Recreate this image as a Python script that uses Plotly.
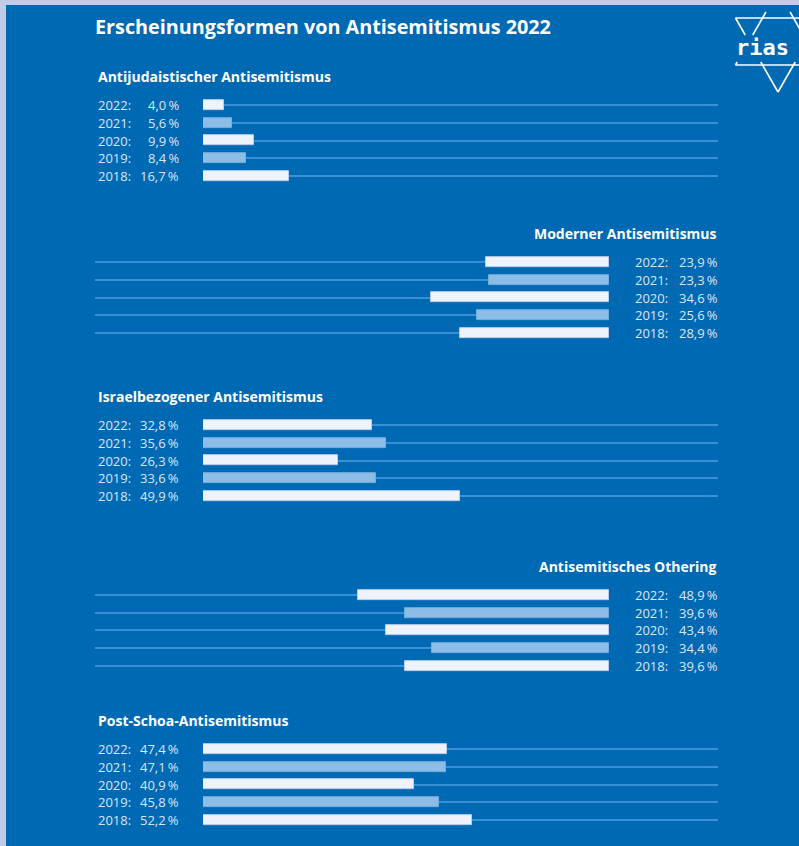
import plotly.graph_objects as go

W, H = 799, 846

years = ["2022", "2021", "2020", "2019", "2018"]

antijudaistisch = [4.0, 5.6, 9.9, 8.4, 16.7]
modern = [23.9, 23.3, 34.6, 25.6, 28.9]
israelbezogen = [32.8, 35.6, 26.3, 33.6, 49.9]
othering = [48.9, 39.6, 43.4, 34.4, 39.6]
post_schoa = [47.4, 47.1, 40.9, 45.8, 52.2]

panel_titles = [
    "Antijudaistischer Antisemitismus",
    "Moderner Antisemitismus",
    "Israelbezogener Antisemitismus",
    "Antisemitisches Othering",
    "Post-Schoa-Antisemitismus",
]
panel_values = [antijudaistisch, modern, israelbezogen, othering, post_schoa]
# which panels grow from the right edge
panel_right = [False, True, False, True, False]

BLUE = "#0069b4"
BORDER = "#c0cbe6"
BAR_WHITE = "#eef3fb"
BAR_LIGHT = "#8bbde6"
LINE = "#3b8fd4"
LABEL = "#dce6f4"
FONT = "Open Sans"

# layout in pixels
first_row = [105, 262, 425, 595, 749]
title_y = [76, 233, 396, 566, 720]
ROW = 17.75


def px_x(x):
    return x / W


def px_y(y):
    return 1 - y / H


def fmt(v):
    return f"{v:.1f}".replace(".", ",") + "\u2009%"


fig = go.Figure()
annotations = []

for i, (title, vals, right) in enumerate(zip(panel_titles, panel_values, panel_right)):
    n = i + 1
    xa = "x" if n == 1 else f"x{n}"
    ya = "y" if n == 1 else f"y{n}"
    colors = [BAR_WHITE if j % 2 == 0 else BAR_LIGHT for j in range(len(years))]
    edges = ["#b9cce8" if j % 2 == 0 else "#74aade" for j in range(len(years))]
    fig.add_trace(go.Bar(
        x=vals, y=years, orientation="h",
        marker=dict(color=colors, line=dict(color=edges, width=1)),
        width=0.56, xaxis=xa, yaxis=ya, showlegend=False, hoverinfo="x+y",
    ))

    top = first_row[i] - ROW / 2
    bottom = first_row[i] + 4 * ROW + ROW / 2
    if right:
        xdom = [px_x(95), px_x(609)]
        xrange = [100, 0]
    else:
        xdom = [px_x(203), px_x(718)]
        xrange = [0, 100]
    ydom = [px_y(bottom), px_y(top)]

    xkey = "xaxis" if n == 1 else f"xaxis{n}"
    ykey = "yaxis" if n == 1 else f"yaxis{n}"
    fig.update_layout(**{
        xkey: dict(domain=xdom, range=xrange, visible=False, anchor=ya, fixedrange=True),
        ykey: dict(domain=ydom, type="category", categoryorder="array",
                   categoryarray=years, range=[4.5, -0.5], anchor=xa,
                   showgrid=True, gridcolor=LINE, gridwidth=2,
                   showticklabels=False, ticks="", zeroline=False,
                   showline=False, fixedrange=True),
    })

    # year and value labels, placed on the category positions of the axis
    if right:
        yx, vx = 633, 720
    else:
        yx, vx = 96, 181
    for j, (yr, v) in enumerate(zip(years, vals)):
        annotations.append(dict(
            x=px_x(yx), xref="paper", y=j, yref=ya, text=yr + ":",
            xanchor="left", yanchor="middle", showarrow=False,
            font=dict(family=FONT, size=13, color=LABEL)))
        annotations.append(dict(
            x=px_x(vx), xref="paper", y=j, yref=ya, text=fmt(v),
            xanchor="right", yanchor="middle", showarrow=False,
            font=dict(family=FONT, size=13, color=LABEL)))

    # panel heading
    annotations.append(dict(
        x=px_x(719 if right else 96), xref="paper", y=px_y(title_y[i]), yref="paper",
        text=f"<b>{title}</b>", xanchor="right" if right else "left",
        yanchor="middle", showarrow=False,
        font=dict(family=FONT, size=14, color="white")))

# main heading
annotations.append(dict(
    x=px_x(93), xref="paper", y=px_y(27), yref="paper",
    text="<b>Erscheinungsformen von Antisemitismus 2022</b>",
    xanchor="left", yanchor="middle", showarrow=False,
    font=dict(family=FONT, size=19.8, color="white")))

# logo wordmark
annotations.append(dict(
    x=px_x(762), xref="paper", y=px_y(48), yref="paper",
    text="<b>rias</b>", xanchor="center", yanchor="middle", showarrow=False,
    font=dict(family="DejaVu Sans Mono", size=22, color="white")))

shapes = []
# blue page with light frame on top and left
shapes.append(dict(type="rect", xref="paper", yref="paper", layer="below",
                   x0=px_x(6), x1=1, y0=0, y1=px_y(5),
                   fillcolor=BLUE, line=dict(width=0)))


def seg(x0, y0, x1, y1):
    return dict(type="line", xref="paper", yref="paper",
                x0=px_x(x0), y0=px_y(y0), x1=px_x(x1), y1=px_y(y1),
                line=dict(color="white", width=1.6), layer="above")


def lerp(a, b, t):
    return a + (b - a) * t


# hexagram outline of the logo, broken around the wordmark
cx, half = 778, 42.5
# downward triangle: top edge y=18, apex y=92
shapes.append(seg(cx - half, 18, cx + half, 18))
shapes.append(seg(cx - half, 18, lerp(cx - half, cx, (35 - 18) / 74), 35))
shapes.append(seg(lerp(cx - half, cx, (62 - 18) / 74), 62, cx, 92))
shapes.append(seg(cx + half, 18, lerp(cx + half, cx, (35 - 18) / 74), 35))
shapes.append(seg(lerp(cx + half, cx, (62 - 18) / 74), 62, cx, 92))
# upward triangle: apex y=-9, bottom edge y=65
shapes.append(seg(cx - half, 65, cx + half, 65))
shapes.append(seg(lerp(cx, cx - half, (12 + 9) / 74), 12, lerp(cx, cx - half, (35 + 9) / 74), 35))
shapes.append(seg(lerp(cx, cx - half, (62 + 9) / 74), 62, cx - half, 65))
shapes.append(seg(lerp(cx, cx + half, (12 + 9) / 74), 12, lerp(cx, cx + half, (35 + 9) / 74), 35))

fig.update_layout(
    width=W, height=H,
    margin=dict(l=0, r=0, t=0, b=0),
    paper_bgcolor=BORDER, plot_bgcolor="rgba(0,0,0,0)",
    bargap=0, barmode="overlay",
    annotations=annotations, shapes=shapes,
    font=dict(family=FONT),
)

fig.write_html("out.html", config={"displayModeBar": False})
